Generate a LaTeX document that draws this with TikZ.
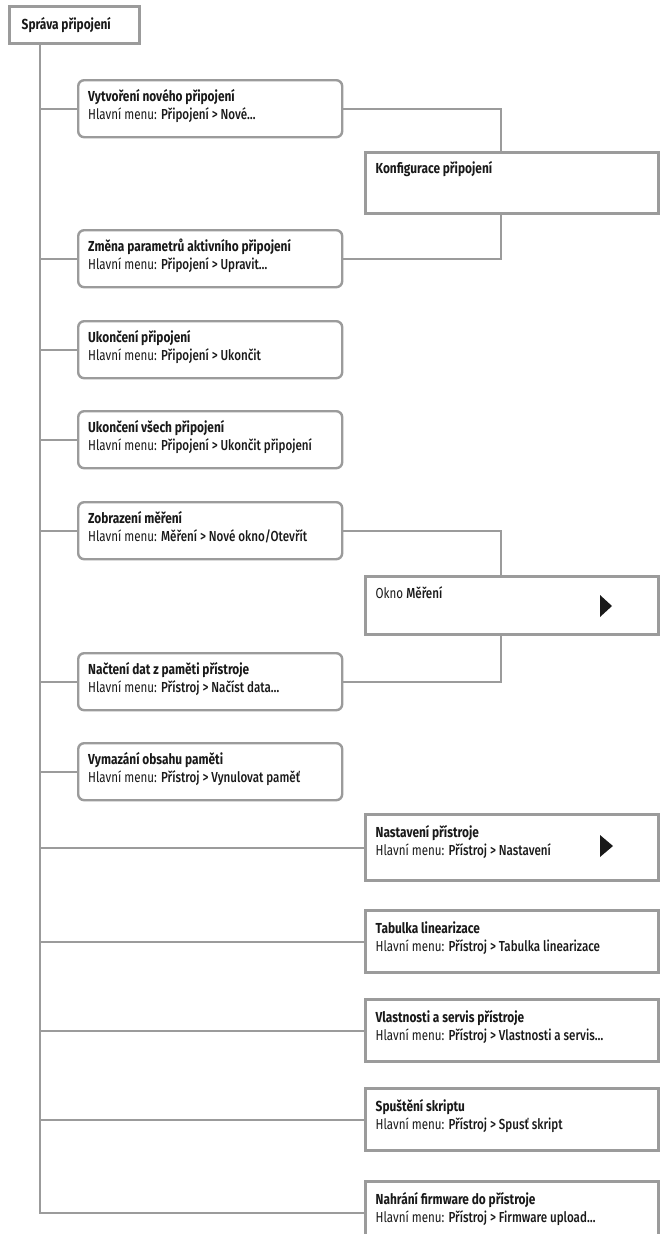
\documentclass[tikz,border=0pt]{standalone}
\usepackage{fontspec}
\setmainfont{Fira Sans}[FakeStretch=0.80, BoldFeatures={FakeStretch=0.82}]
\newfontfamily\lfont{Fira Sans}[FakeStretch=0.80]
\newfontfamily\mfont{Fira Sans Medium}[FakeStretch=0.80]
\usetikzlibrary{calc}
\definecolor{lg}{RGB}{155,155,155}
\definecolor{ink}{RGB}{25,25,25}
\newcommand{\RB}[2]{\parbox[c][57pt][t]{244pt}{\rule{0pt}{21pt}{\bfseries #1}\\{\lfont Hlavní menu:} {\mfont #2}}}
\newcommand{\SB}[3]{\parbox[c][#1][t]{273pt}{\rule{0pt}{23pt}{\bfseries #2}\\{\lfont Hlavní menu:} {\mfont #3}}}
\tikzset{
  every node/.style={font=\fontsize{14.5}{18}\selectfont, text=ink},
  rbox/.style={draw=lg, line width=2.4pt, rounded corners=6pt, fill=white, inner sep=0pt,
    minimum width=264pt, minimum height=57pt, anchor=north west},
  sbox/.style={draw=lg, line width=3.4pt, fill=white, inner sep=0pt,
    minimum width=293pt, anchor=north west},
  conn/.style={draw=lg, line width=2pt},
  tri/.style={fill=ink}
}
\begin{document}
\begin{tikzpicture}[x=1pt,y=-1pt]
\useasboundingbox (0,0) rectangle (665,1234);
\fill[white] (0,0) rectangle (665,1234);

\node[draw=lg, line width=3.4pt, fill=white, anchor=north west, minimum width=130pt,
  minimum height=37pt, inner xsep=0pt, inner ysep=0pt] (top) at (8,5)
  {\parbox{106pt}{\bfseries Správa připojení}};

\node[rbox] (b1) at (77,79) {\RB{Vytvoření nového připojení}{Připojení > Nové…}};
\node[rbox] (b2) at (77,229) {\RB{Změna parametrů aktivního připojení}{Připojení > Upravit…}};
\node[rbox] (b3) at (77,320) {\RB{Ukončení připojení}{Připojení > Ukončit}};
\node[rbox] (b4) at (77,410) {\RB{Ukončení všech připojení}{Připojení > Ukončit připojení}};
\node[rbox] (b5) at (77,501) {\RB{Zobrazení měření}{Měření > Nové okno/Otevřít}};
\node[rbox] (b6) at (77,652) {\RB{Načtení dat z paměti přístroje}{Přístroj > Načíst data…}};
\node[rbox] (b7) at (77,742) {\RB{Vymazání obsahu paměti}{Přístroj > Vynulovat paměť}};

\node[sbox, minimum height=61pt] (konf) at (364,151)
  {\parbox[c][61pt][t]{273pt}{\rule{0pt}{21pt}\bfseries Konfigurace připojení}};
\node[sbox, minimum height=58pt] (okno) at (364,575)
  {\parbox[c][58pt][t]{273pt}{\rule{0pt}{22pt}{\lfont Okno} {\mfont Měření}}};
\node[sbox, minimum height=66pt] (ns) at (364,813) {\SB{66pt}{Nastavení přístroje}{Přístroj > Nastavení}};
\node[sbox, minimum height=62pt] (tab) at (364,909) {\SB{62pt}{Tabulka linearizace}{Přístroj > Tabulka linearizace}};
\node[sbox, minimum height=62pt] (vl) at (364,998) {\SB{62pt}{Vlastnosti a servis přístroje}{Přístroj > Vlastnosti a servis…}};
\node[sbox, minimum height=62pt] (sp) at (364,1087) {\SB{62pt}{Spuštění skriptu}{Přístroj > Spusť skript}};
\node[sbox, minimum height=62pt] (fw) at (364,1180) {\SB{62pt}{Nahrání firmware do přístroje}{Přístroj > Firmware upload…}};

\coordinate (tk) at (40,0);
\coordinate (kx) at (501,0);

\draw[conn] (tk |- top.south) -- (tk |- fw.west) -- (fw.west);
\foreach \n in {b1,b2,b3,b4,b5,b6,b7,ns,tab,vl,sp}{
  \draw[conn] (tk |- \n.west) -- (\n.west);
}
\draw[conn] (b1.east) -- (b1.east -| kx) -- (kx |- konf.north);
\draw[conn] (kx |- konf.south) -- (kx |- b2.east) -- (b2.east);
\draw[conn] (b5.east) -- (b5.east -| kx) -- (kx |- okno.north);
\draw[conn] (kx |- okno.south) -- (kx |- b6.east) -- (b6.east);

\fill[tri] (600,595) -- (612,606) -- (600,617) -- cycle;
\fill[tri] (600,835) -- (613,846) -- (600,857) -- cycle;
\end{tikzpicture}
\end{document}
